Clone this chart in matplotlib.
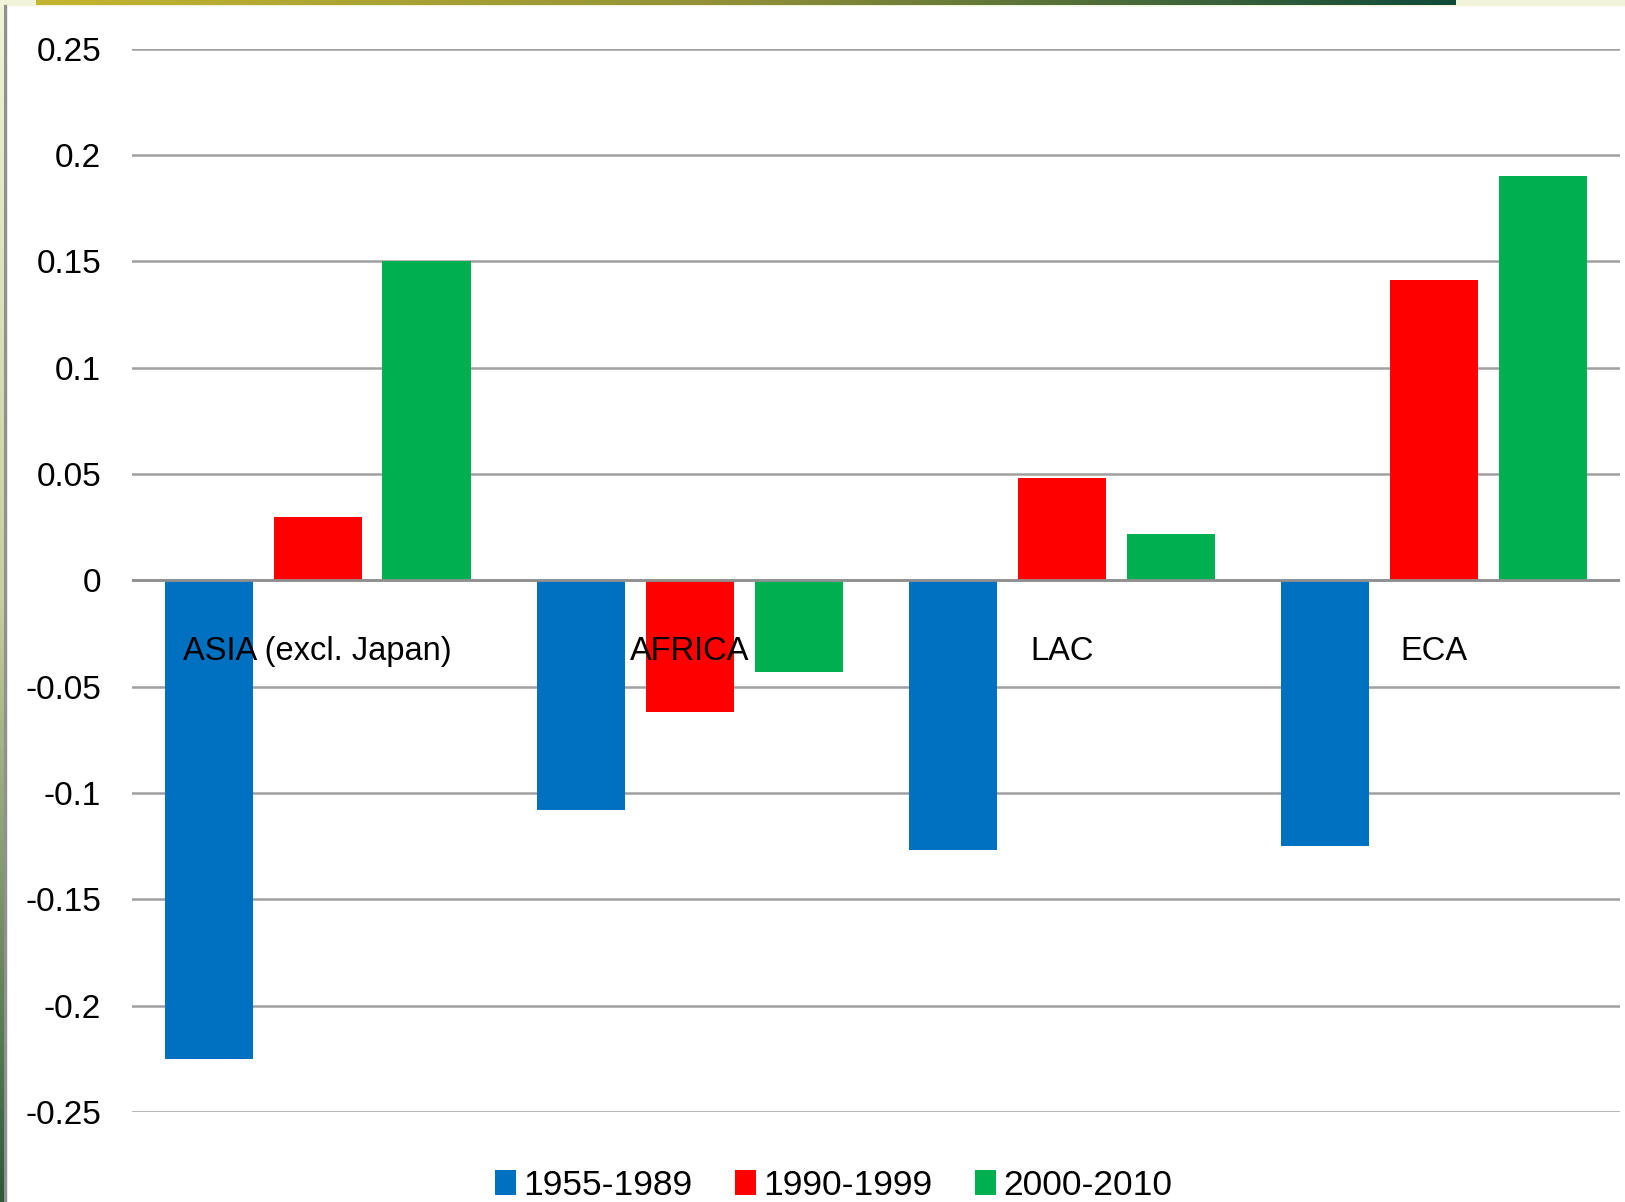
import numpy as np
import matplotlib.pyplot as plt
from matplotlib.colors import LinearSegmentedColormap
from matplotlib.patches import Rectangle

regions = ["ASIA (excl. Japan)", "AFRICA", "LAC", "ECA"]
periods = ["1955-1989", "1990-1999", "2000-2010"]
v_1955_1989 = [-0.225, -0.108, -0.127, -0.125]
v_1990_1999 = [0.030, -0.062, 0.048, 0.141]
v_2000_2010 = [0.150, -0.043, 0.022, 0.190]
colors = ["#0070C0", "#FF0000", "#00B050"]
yticks = [0.25, 0.2, 0.15, 0.1, 0.05, 0, -0.05, -0.1, -0.15, -0.2, -0.25]

plt.rcParams["font.family"] = ["Liberation Sans", "DejaVu Sans"]

fig = plt.figure(figsize=(16.25, 12.02), dpi=100)
ax = fig.add_axes([0.081, 0.0749, 0.916, 0.8846])

x = np.arange(len(regions))
width = 0.237
step = 0.2925
for i, (vals, lab) in enumerate(zip([v_1955_1989, v_1990_1999, v_2000_2010], periods)):
    ax.bar(x + (i - 1) * step, vals, width=width, color=colors[i], label=lab, zorder=3)

ax.set_xlim(-0.5, len(regions) - 0.5)
ax.set_ylim(-0.25, 0.25)
ax.set_yticks(yticks)
ax.set_yticklabels(["0" if t == 0 else f"{t:g}" for t in yticks], fontsize=24)
ax.tick_params(axis="y", length=0, pad=22)
ax.set_xticks([])
ax.grid(axis="y", color="#A0A0A0", linewidth=1.8, zorder=0)
for s in ax.spines.values():
    s.set_visible(False)
ax.axhline(0, color="#909090", linewidth=2, zorder=4)

# category names sit just under the zero line
for xi, name in zip(x, regions):
    ax.text(xi, -0.0335, name, ha="center", va="center", fontsize=23.5, zorder=5)

fig.legend(loc="center", bbox_to_anchor=(0.513, 0.014), ncol=3, frameon=False,
           fontsize=25.5, handlelength=0.6, handleheight=0.7, handletextpad=0.2,
           columnspacing=1.2)

# decorative slide frame
fig.patches.append(Rectangle((0, 1 - 5 / 1202), 1, 5 / 1202, transform=fig.transFigure,
                             color="#F0F3D8", zorder=-5))
grad = LinearSegmentedColormap.from_list("g", ["#C4B52F", "#8F8F38", "#0F4A3A"])
top = fig.add_axes([36 / 1625, 1 - 5 / 1202, 1420 / 1625, 5 / 1202], zorder=10)
top.imshow(np.linspace(0, 1, 256)[None, :], aspect="auto", cmap=grad,
           interpolation="bilinear")
top.axis("off")
side_cm = LinearSegmentedColormap.from_list("s", ["#F0F3D8", "#C8CF9A", "#2E5A3A"])
side = fig.add_axes([0, 0, 4 / 1625, 1], zorder=10)
side.imshow(np.linspace(0, 1, 256)[:, None], aspect="auto", cmap=side_cm,
            interpolation="bilinear")
side.axis("off")
fig.patches.append(Rectangle((4 / 1625, 0), 2 / 1625, 1 - 5 / 1202, transform=fig.transFigure,
                             color="#909090", zorder=1))

fig.savefig("out.png", dpi=100)
